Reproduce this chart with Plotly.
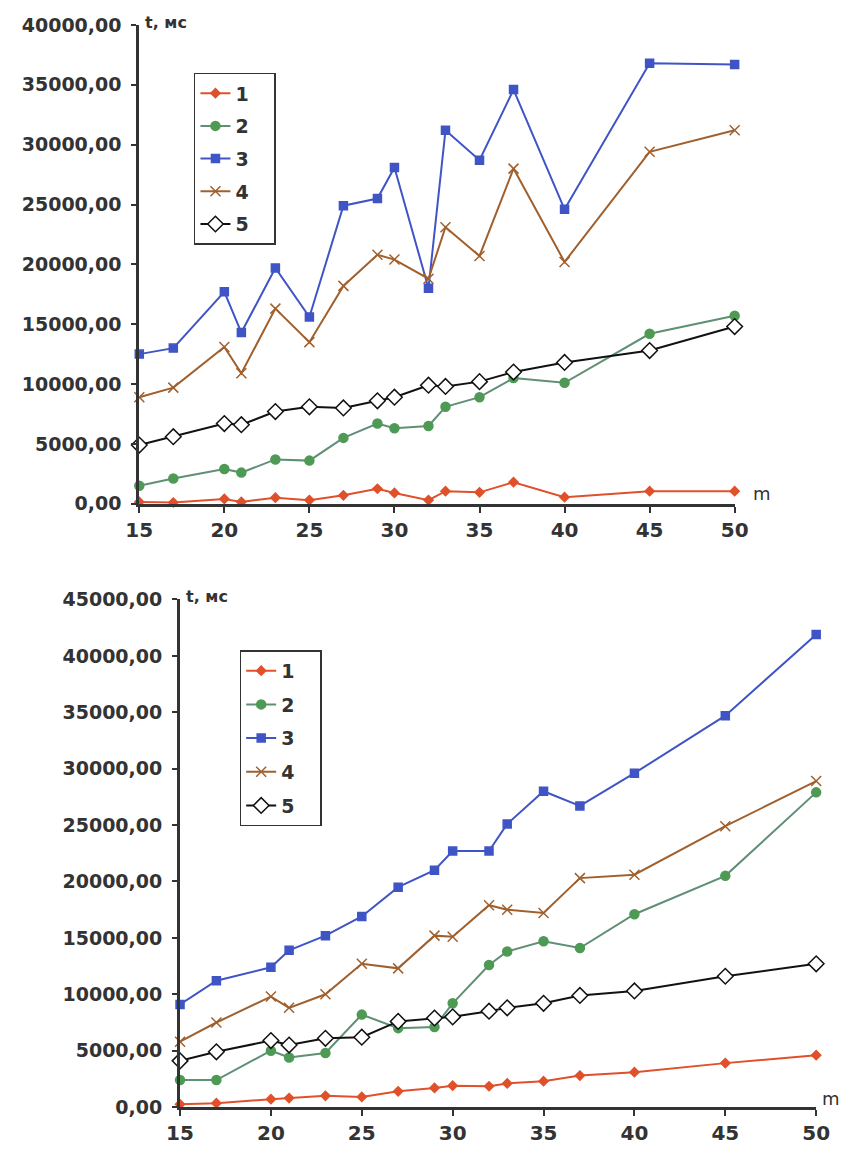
import plotly.graph_objects as go

# ---- data ----
m_values = [15, 17, 20, 21, 23, 25, 27, 29, 30, 32, 33, 35, 37, 40, 45, 50]

top_s1 = [150, 100, 400, 150, 500, 300, 700, 1250, 900, 300, 1050, 950, 1800, 550, 1050, 1050]
top_s2 = [1500, 2100, 2900, 2600, 3700, 3600, 5500, 6700, 6300, 6500, 8100, 8900, 10500, 10100, 14200, 15700]
top_s3 = [12500, 13000, 17700, 14300, 19700, 15600, 24900, 25500, 28100, 18000, 31200, 28700, 34600, 24600, 36800, 36700]
top_s4 = [8900, 9700, 13100, 10900, 16300, 13500, 18200, 20800, 20400, 18800, 23100, 20700, 28000, 20200, 29400, 31200]
top_s5 = [4900, 5600, 6700, 6600, 7700, 8100, 8000, 8600, 8900, 9900, 9800, 10200, 11000, 11800, 12800, 14800]

bot_s1 = [250, 350, 700, 800, 1000, 900, 1400, 1700, 1900, 1850, 2100, 2300, 2800, 3100, 3900, 4600]
bot_s2 = [2400, 2400, 5000, 4400, 4800, 8200, 7000, 7100, 9200, 12600, 13800, 14700, 14100, 17100, 20500, 27900]
bot_s3 = [9100, 11200, 12400, 13900, 15200, 16900, 19500, 21000, 22700, 22700, 25100, 28000, 26700, 29600, 34700, 41900]
bot_s4 = [5800, 7500, 9800, 8800, 10000, 12700, 12300, 15200, 15100, 17900, 17500, 17200, 20300, 20600, 24900, 28900]
bot_s5 = [4100, 4900, 5900, 5500, 6100, 6200, 7600, 7900, 8000, 8500, 8800, 9200, 9900, 10300, 11600, 12700]

series_names = ["1", "2", "3", "4", "5"]
x_ticks = [15, 20, 25, 30, 35, 40, 45, 50]
top_y_ticks = [0, 5000, 10000, 15000, 20000, 25000, 30000, 35000, 40000]
bot_y_ticks = [0, 5000, 10000, 15000, 20000, 25000, 30000, 35000, 40000, 45000]

# ---- styles ----
styles = [
    dict(color="#E0502A", symbol="diamond", size=7, mcolor="#E0502A", mline="#E0502A"),
    dict(color="#5F8F74", symbol="circle", size=9, mcolor="#4E9A55", mline="#4E9A55"),
    dict(color="#3F55C6", symbol="square", size=8, mcolor="#3F55C6", mline="#3F55C6"),
    dict(color="#A0602E", symbol="x-thin", size=10, mcolor="#A0602E", mline="#A0602E"),
    dict(color="#111111", symbol="diamond", size=12, mcolor="white", mline="#111111"),
]

# rendered plot-area mapping (page pixels -> paper fractions)
OX, PW = 19.0, 828.0
OY, PH = 18.0, 1134.0
def px(x):
    return (x - OX) / PW
def py(y):
    return 1 - (y - OY) / PH

fig = go.Figure()

top_data = [top_s1, top_s2, top_s3, top_s4, top_s5]
bot_data = [bot_s1, bot_s2, bot_s3, bot_s4, bot_s5]
pad = "\u00a0\u00a0\u00a0"

for i, (name, ys, st) in enumerate(zip(series_names, top_data, styles)):
    fig.add_trace(go.Scatter(
        x=m_values, y=ys, name=name + pad, mode="lines+markers",
        line=dict(color=st["color"], width=2),
        marker=dict(symbol=st["symbol"], size=st["size"], color=st["mcolor"],
                    line=dict(color=st["mline"], width=1.5)),
        xaxis="x", yaxis="y", legend="legend", legendgroup="top%d" % i,
        cliponaxis=False,
    ))

for i, (name, ys, st) in enumerate(zip(series_names, bot_data, styles)):
    fig.add_trace(go.Scatter(
        x=m_values, y=ys, name=name + pad, mode="lines+markers",
        line=dict(color=st["color"], width=2),
        marker=dict(symbol=st["symbol"], size=st["size"], color=st["mcolor"],
                    line=dict(color=st["mline"], width=1.5)),
        xaxis="x2", yaxis="y2", legend="legend2", legendgroup="bot%d" % i,
        cliponaxis=False,
    ))

W, H = 851, 1153
tick_font = dict(family="DejaVu Sans", size=19, color="#333333", weight="bold")
xtick_font = dict(family="DejaVu Sans", size=20, color="#333333", weight="bold")

def xaxis(domain, anchor):
    return dict(domain=domain, anchor=anchor, range=[15, 50], tickvals=x_ticks,
                showline=True, linecolor="#333333", linewidth=3, ticks="outside",
                ticklen=6, tickwidth=2, tickcolor="#333333", showgrid=False,
                zeroline=False, tickfont=xtick_font, fixedrange=True)

def yaxis(domain, anchor, rng, tv):
    return dict(domain=domain, anchor=anchor, range=rng, tickvals=tv,
                tickformat=".2f", showline=True, linecolor="#333333", linewidth=3,
                ticks="outside", ticklen=5, tickwidth=2, tickcolor="#333333",
                ticklabelstandoff=6,
                showgrid=False, zeroline=False, tickfont=tick_font, fixedrange=True)

leg_font = dict(family="DejaVu Sans", size=19, color="#333333", weight="bold")

fig.update_layout(
    width=W, height=H,
    margin=dict(l=0, r=0, t=0, b=0),
    paper_bgcolor="white", plot_bgcolor="white",
    separators=",.",
    xaxis=xaxis([px(137), px(736)], "y"),
    yaxis=yaxis([py(504), py(24)], "x", [0, 40000], top_y_ticks),
    xaxis2=xaxis([px(178), px(818)], "y2"),
    yaxis2=yaxis([py(1109), py(600)], "x2", [0, 45000], bot_y_ticks),
    legend=dict(x=px(192), y=py(72), xanchor="left", yanchor="top",
                bgcolor="white", bordercolor="#333333", borderwidth=1.5,
                font=leg_font, tracegroupgap=5, itemsizing="trace"),
    legend2=dict(x=px(238), y=py(651), xanchor="left", yanchor="top",
                 bgcolor="white", bordercolor="#333333", borderwidth=1.5,
                 font=leg_font, tracegroupgap=6, itemsizing="trace"),
    showlegend=True,
)

ann_font = dict(family="DejaVu Sans", size=16, color="#333333", weight="bold")
fig.add_annotation(x=px(141), y=py(22), xref="paper", yref="paper", text="t, мс",
                   showarrow=False, xanchor="left", yanchor="middle", font=ann_font)
fig.add_annotation(x=px(182), y=py(597), xref="paper", yref="paper", text="t, мс",
                   showarrow=False, xanchor="left", yanchor="middle", font=ann_font)
m_font = dict(family="DejaVu Sans", size=18, color="#333333")
fig.add_annotation(x=px(752), y=py(494), xref="paper", yref="paper", text="m",
                   showarrow=False, xanchor="left", yanchor="middle", font=m_font)
fig.add_annotation(x=px(822), y=py(1100), xref="paper", yref="paper", text="m",
                   showarrow=False, xanchor="left", yanchor="middle", font=m_font)

fig.write_html("out.html")
